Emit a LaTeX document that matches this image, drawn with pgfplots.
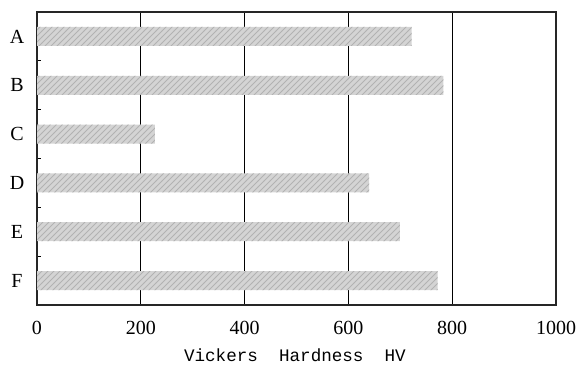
\documentclass[border=0pt]{standalone}
\usepackage{pgfplots}
\pgfplotsset{compat=1.18}
\usepackage{fontspec}
\setmainfont{Liberation Serif}
\setmonofont{Liberation Mono}
\usetikzlibrary{patterns}
\begin{document}
\begin{tikzpicture}
\useasboundingbox (0,0) rectangle (289.5pt,183.5pt);
\begin{axis}[
  at={(18.5pt,31pt)}, anchor=south west,
  scale only axis, width=259.5pt, height=146.5pt,
  xbar, bar width=9.5pt,
  xmin=0, xmax=1000, ymin=-0.5, ymax=5.5, y dir=reverse,
  xtick={0,200,400,600,800,1000},
  xmajorgrids, grid style={black, line width=0.5pt},
  major x tick style={draw=none},
  ytick={0,1,2,3,4,5}, yticklabels={A,B,C,D,E,F},
  minor ytick={0.5,1.5,2.5,3.5,4.5},
  major y tick style={draw=none},
  minor tick length=2pt, tick align=inside, ytick pos=left,
  minor y tick style={black, line width=0.4pt},
  axis line style={line width=1.2pt, black!85},
  /pgf/number format/assume math mode=true,
  /pgf/number format/1000 sep={},
  tick label style={font=\fontsize{10}{12}\selectfont},
  xticklabel style={anchor=center, yshift=-11.5pt},
  yticklabel style={anchor=center, xshift=-10pt},
  xlabel={\ttfamily\fontsize{8.8}{10}\selectfont Vickers\ \ Hardness\ \ HV},
  xlabel style={at={(axis description cs:0.497,0)}, anchor=center, yshift=-25pt},
]
\addplot[draw=none, fill=black!17, postaction={pattern=north east lines, pattern color=black!30}]
 coordinates {(722,0) (783,1) (227,2) (640,3) (699,4) (772,5)};
\end{axis}
\end{tikzpicture}
\end{document}
